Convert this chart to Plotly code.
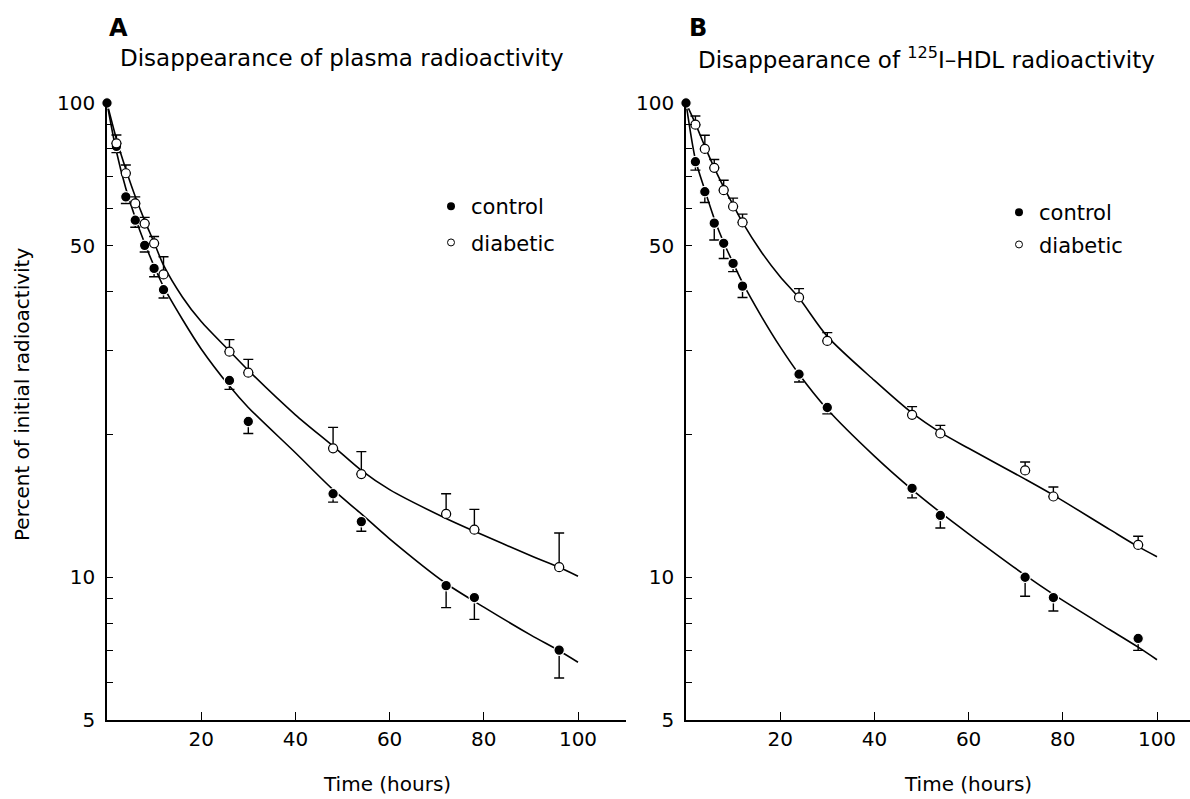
import plotly.graph_objects as go
import math

# ---------------- data ----------------
# Panel A: plasma radioactivity
a_ctrl_t = [0, 2, 4, 6, 8, 10, 12, 26, 30, 48, 54, 72, 78, 96]
a_ctrl_v = [100, 81, 63.4, 56.6, 50.1, 44.8, 40.4, 26.0, 21.3, 15.0, 13.1, 9.6, 9.06, 7.02]
a_ctrl_err = [0, 2.4, 2.0, 1.9, 1.6, 1.8, 1.6, 1.1, 1.2, 0.6, 0.6, 0.97, 0.91, 0.89]

a_diab_t = [2, 4, 6, 8, 10, 12, 26, 30, 48, 54, 72, 78, 96]
a_diab_v = [82.2, 71.1, 61.4, 55.7, 50.6, 43.5, 29.9, 27.0, 18.7, 16.5, 13.6, 12.6, 10.5]
a_diab_err = [3.4, 2.9, 2.0, 1.7, 1.7, 3.9, 1.8, 1.8, 2.0, 1.9, 1.4, 1.3, 1.9]

a_ctrl_fit_t = [0, 2, 4, 6, 8, 10, 12, 16, 20, 26, 30, 40, 48, 54, 60, 72, 80, 90, 96, 100]
a_ctrl_fit_v = [100, 79, 66, 57.3, 50.6, 45.3, 41.0, 35.0, 30.3, 25.3, 22.8, 18.3, 15.3, 13.6, 12.05, 9.7, 8.65, 7.55, 7.0, 6.62]
a_diab_fit_t = [0, 2, 4, 6, 8, 10, 12, 16, 20, 26, 30, 40, 48, 54, 60, 72, 78, 90, 96, 100]
a_diab_fit_v = [100, 84, 72.5, 63.5, 56.5, 50.8, 45.5, 39.0, 34.6, 30.0, 27.3, 22.0, 18.9, 16.8, 15.3, 13.3, 12.5, 11.1, 10.5, 10.05]

# Panel B: 125I-HDL radioactivity
b_ctrl_t = [0, 2, 4, 6, 8, 10, 12, 24, 30, 48, 54, 72, 78, 96]
b_ctrl_v = [100, 75.2, 65.0, 55.8, 50.6, 45.9, 41.1, 26.8, 22.8, 15.4, 13.5, 10.0, 9.06, 7.43]
b_ctrl_err = [0, 3.0, 3.3, 4.4, 3.6, 1.8, 2.2, 1.0, 0.7, 0.7, 0.8, 0.88, 0.57, 0.42]

b_diab_t = [2, 4, 6, 8, 10, 12, 24, 30, 48, 54, 72, 78, 96]
b_diab_v = [90.0, 80.0, 73.0, 65.5, 60.5, 56.0, 38.9, 31.5, 22.0, 20.1, 16.8, 14.8, 11.7]
b_diab_err = [3.9, 5.5, 3.0, 3.2, 2.5, 2.3, 1.7, 1.3, 0.9, 0.8, 0.7, 0.7, 0.5]

b_ctrl_fit_t = [0, 2, 4, 6, 8, 10, 12, 16, 20, 24, 30, 40, 48, 54, 60, 72, 78, 90, 96, 100]
b_ctrl_fit_v = [100, 76, 65.5, 57, 50.8, 46, 41.8, 35.5, 30.6, 26.8, 22.6, 18.0, 15.3, 13.7, 12.35, 10.1, 9.2, 7.75, 7.12, 6.7]
b_diab_fit_t = [0, 2, 4, 6, 8, 10, 12, 16, 20, 24, 30, 40, 48, 54, 60, 72, 78, 90, 96, 100]
b_diab_fit_v = [100, 90.5, 81, 73, 66.5, 61, 56, 48.5, 43, 38.8, 32.2, 26.0, 22.2, 20.2, 18.7, 16.1, 14.9, 12.6, 11.6, 11.05]

x_ticks = [20, 40, 60, 80, 100]
y_ticks = [5, 6, 7, 8, 9, 10, 20, 30, 40, 50, 60, 70, 80, 90, 100]
y_ticktext = ["5", "", "", "", "", "10", "", "", "", "50", "", "", "", "", "100"]

FONT = "DejaVu Sans"
W, H = 1190, 799

fig = go.Figure()

def add_panel(xa, ya, legend, ct, cv, ce, dt, dv, de, cft, cfv, dft, dfv):
    for ft, fv in ((cft, cfv), (dft, dfv)):
        fig.add_trace(go.Scatter(x=ft, y=fv, mode="lines", line=dict(color="black", width=1.6, shape="spline", smoothing=0.8),
                                 xaxis=xa, yaxis=ya, showlegend=False, hoverinfo="skip"))
    fig.add_trace(go.Scatter(x=ct, y=cv, mode="markers", xaxis=xa, yaxis=ya, showlegend=False, cliponaxis=False,
                             marker=dict(symbol="circle", size=10.5, color="black", line=dict(color="white", width=1.2)),
                             error_y=dict(type="data", symmetric=False, array=[0] * len(ce), arrayminus=ce,
                                          color="black", thickness=1.4, width=5)))
    fig.add_trace(go.Scatter(x=dt, y=dv, mode="markers", xaxis=xa, yaxis=ya, showlegend=False, cliponaxis=False,
                             marker=dict(symbol="circle", size=9, color="white", line=dict(color="black", width=1.2)),
                             error_y=dict(type="data", symmetric=False, array=de, arrayminus=[0] * len(de),
                                          color="black", thickness=1.4, width=5)))
    # legend-only entries
    fig.add_trace(go.Scatter(x=[None], y=[None], mode="markers", name="control", legend=legend, legendgroup=legend + "c",
                             xaxis=xa, yaxis=ya, marker=dict(symbol="circle", size=8, color="black")))
    fig.add_trace(go.Scatter(x=[None], y=[None], mode="markers", name="diabetic", legend=legend, legendgroup=legend + "d",
                             xaxis=xa, yaxis=ya, marker=dict(symbol="circle-open", size=7, color="black", line=dict(width=1))))

add_panel("x", "y", "legend", a_ctrl_t, a_ctrl_v, a_ctrl_err, a_diab_t, a_diab_v, a_diab_err,
          a_ctrl_fit_t, a_ctrl_fit_v, a_diab_fit_t, a_diab_fit_v)
add_panel("x2", "y2", "legend2", b_ctrl_t, b_ctrl_v, b_ctrl_err, b_diab_t, b_diab_v, b_diab_err,
          b_ctrl_fit_t, b_ctrl_fit_v, b_diab_fit_t, b_diab_fit_v)

px_per_h = 4.71
ax_a = (107, 626)
ax_b = (686, 1190)
y_top, y_bot = 103, 720

xcommon = dict(showline=True, linecolor="black", linewidth=1.5, ticks="inside", ticklen=8, tickwidth=1.3,
               tickcolor="black", tickvals=x_ticks, showgrid=False, zeroline=False,
               tickfont=dict(family=FONT, size=20, color="black"), automargin=False)
ycommon = dict(type="log", showline=True, linecolor="black", linewidth=1.5, ticks="inside", ticklen=6, tickwidth=1.2,
               tickcolor="black", tickvals=y_ticks, ticktext=y_ticktext, showgrid=False, zeroline=False,
               range=[math.log10(5), 2], tickfont=dict(family=FONT, size=20, color="black"), automargin=False,
               ticklabelstandoff=6)

fig.update_layout(
    width=W, height=H, margin=dict(l=0, r=0, t=0, b=0),
    paper_bgcolor="white", plot_bgcolor="white",
    font=dict(family=FONT, color="black"),
    xaxis=dict(domain=[ax_a[0] / W, ax_a[1] / W], range=[0, (ax_a[1] - ax_a[0]) / px_per_h], anchor="y", **xcommon),
    yaxis=dict(domain=[1 - y_bot / H, 1 - y_top / H], anchor="x", **ycommon),
    xaxis2=dict(domain=[ax_b[0] / W, ax_b[1] / W], range=[0, (ax_b[1] - ax_b[0]) / px_per_h], anchor="y2", **xcommon),
    yaxis2=dict(domain=[1 - y_bot / H, 1 - y_top / H], anchor="x2", **ycommon),
    legend=dict(x=431 / W, y=1 - 186 / H, xanchor="left", yanchor="top", bgcolor="rgba(0,0,0,0)",
                font=dict(family=FONT, size=21), tracegroupgap=6, itemwidth=30),
    legend2=dict(x=999 / W, y=1 - 192 / H, xanchor="left", yanchor="top", bgcolor="rgba(0,0,0,0)",
                 font=dict(family=FONT, size=21), tracegroupgap=2, itemwidth=30),
    showlegend=True,
)

ann = [
    dict(text="<b>A</b>", x=107 / W, y=1 - 28 / H, xanchor="left", yanchor="middle", font=dict(size=24)),
    dict(text="Disappearance of plasma radioactivity", x=118 / W, y=1 - 58 / H, xanchor="left", yanchor="middle",
         font=dict(size=23)),
    dict(text="<b>B</b>", x=687 / W, y=1 - 28 / H, xanchor="left", yanchor="middle", font=dict(size=24)),
    dict(text="Disappearance of <sup>125</sup>I\u2013HDL radioactivity", x=696 / W, y=1 - 58 / H, xanchor="left",
         yanchor="middle", font=dict(size=23)),
    dict(text="Percent of initial radioactivity", x=22 / W, y=1 - 395 / H, xanchor="center", yanchor="middle",
         textangle=-90, font=dict(size=20)),
    dict(text="Time (hours)", x=387 / W, y=1 - 784 / H, xanchor="center", yanchor="middle", font=dict(size=20)),
    dict(text="Time (hours)", x=968 / W, y=1 - 784 / H, xanchor="center", yanchor="middle", font=dict(size=20)),
]
for a in ann:
    a.update(xref="paper", yref="paper", showarrow=False)
    a["font"].update(family=FONT, color="black")
fig.update_layout(annotations=ann)

fig.write_html("out.html", config={"displayModeBar": False},
               post_script="document.body.style.margin='0px';document.body.style.overflow='hidden';")
